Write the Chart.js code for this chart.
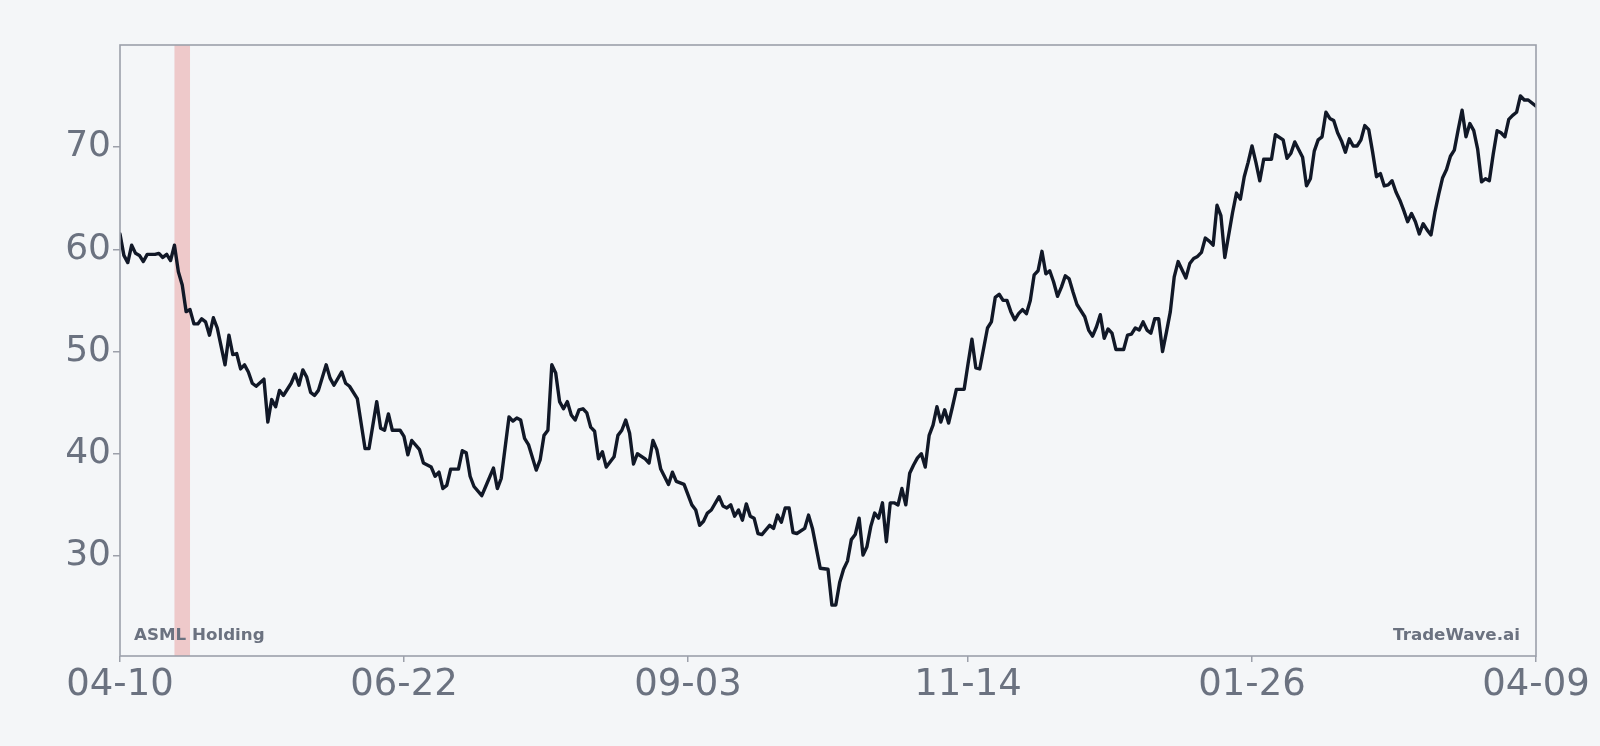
<!DOCTYPE html>
<html>
<head>
<meta charset="utf-8">
<title>ASML Holding</title>
<script src="https://cdn.jsdelivr.net/npm/chart.js@4.4.1/dist/chart.umd.min.js"></script>
<style>
    html, body { margin: 0; padding: 0; background: #f4f6f8; }
    #wrap { width: 1600px; height: 746px; position: relative; }
</style>
</head>
<body>
<div id="wrap"><canvas id="priceChart"></canvas></div>
<script>
const tickerName = 'ASML Holding';
const sourceLabel = 'TradeWave.ai';
const tickDays = [0, 73, 146, 218, 291, 364];
const tickLabels = ['04-10', '06-22', '09-03', '11-14', '01-26', '04-09'];
const yTicks = [30, 40, 50, 60, 70];
const highlightDays = [14, 18];

// day index (from 04-10) and closing price
const days = [
    0, 1, 2, 3, 4, 5, 6, 7, 9, 10,
    11, 12, 13, 14, 15, 16, 17, 18, 19, 20,
    21, 22, 23, 24, 25, 27, 28, 29, 30, 31,
    32, 33, 34, 35, 37, 38, 39, 40, 41, 42,
    44, 45, 46, 47, 48, 49, 50, 51, 53, 54,
    55, 57, 58, 59, 61, 63, 64, 66, 67, 68,
    69, 70, 72, 73, 74, 75, 77, 78, 80, 81,
    82, 83, 84, 85, 87, 88, 89, 90, 91, 93,
    94, 96, 97, 98, 100, 101, 102, 103, 104, 105,
    107, 108, 109, 110, 111, 112, 113, 114, 115, 116,
    117, 118, 119, 120, 121, 122, 123, 124, 125, 127,
    128, 129, 130, 131, 132, 133, 135, 136, 137, 138,
    139, 141, 142, 143, 145, 147, 148, 149, 150, 151,
    152, 154, 155, 156, 157, 158, 159, 160, 161, 162,
    163, 164, 165, 167, 168, 169, 170, 171, 172, 173,
    174, 176, 177, 178, 180, 182, 183, 184, 185, 186,
    187, 188, 189, 190, 191, 192, 193, 194, 195, 196,
    197, 198, 199, 200, 201, 202, 203, 204, 205, 206,
    207, 208, 209, 210, 211, 212, 213, 214, 215, 217,
    218, 219, 220, 221, 222, 223, 224, 225, 226, 227,
    228, 229, 230, 231, 232, 233, 234, 235, 236, 237,
    238, 239, 240, 241, 242, 243, 244, 245, 246, 248,
    249, 250, 251, 252, 253, 254, 255, 256, 258, 259,
    260, 261, 262, 263, 264, 265, 266, 267, 268, 269,
    270, 271, 272, 273, 274, 275, 276, 277, 278, 279,
    280, 281, 282, 283, 284, 285, 286, 287, 288, 289,
    290, 291, 292, 293, 294, 296, 297, 299, 300, 301,
    302, 304, 305, 306, 307, 308, 309, 310, 311, 312,
    313, 314, 315, 316, 317, 318, 319, 320, 321, 322,
    323, 324, 325, 326, 327, 328, 329, 330, 331, 332,
    333, 334, 335, 336, 337, 338, 339, 340, 341, 342,
    343, 344, 345, 346, 347, 348, 349, 350, 351, 352,
    353, 354, 355, 356, 357, 358, 359, 360, 361, 362,
    364
];
const closes = [
    61.5, 59.4, 58.7, 60.4, 59.6, 59.4, 58.8, 59.5, 59.5, 59.6,
    59.2, 59.5, 58.9, 60.4, 57.8, 56.5, 53.9, 54.1, 52.7, 52.7,
    53.2, 52.9, 51.6, 53.3, 52.3, 48.7, 51.6, 49.7, 49.8, 48.3,
    48.7, 48.0, 46.9, 46.6, 47.3, 43.1, 45.3, 44.6, 46.2, 45.7,
    46.9, 47.8, 46.7, 48.2, 47.5, 46.0, 45.7, 46.2, 48.7, 47.4,
    46.7, 48.0, 46.9, 46.6, 45.4, 40.5, 40.5, 45.1, 42.5, 42.3,
    43.9, 42.3, 42.3, 41.7, 39.9, 41.3, 40.4, 39.1, 38.7, 37.8,
    38.2, 36.6, 36.9, 38.5, 38.5, 40.3, 40.1, 37.8, 36.8, 35.9,
    36.8, 38.6, 36.6, 37.6, 43.6, 43.2, 43.5, 43.3, 41.5, 40.9,
    38.4, 39.4, 41.8, 42.3, 48.7, 47.9, 45.1, 44.4, 45.1, 43.8,
    43.3, 44.3, 44.4, 44.0, 42.6, 42.2, 39.5, 40.2, 38.7, 39.7,
    41.8, 42.3, 43.3, 42.0, 39.0, 40.0, 39.5, 39.1, 41.3, 40.4,
    38.5, 37.0, 38.2, 37.3, 37.0, 35.0, 34.5, 33.0, 33.4, 34.2,
    34.5, 35.8, 34.9, 34.7, 35.0, 33.9, 34.5, 33.5, 35.1, 33.9,
    33.7, 32.2, 32.1, 33.0, 32.7, 34.0, 33.3, 34.7, 34.7, 32.3,
    32.2, 32.7, 34.0, 32.7, 28.8, 28.7, 25.2, 25.2, 27.4, 28.7,
    29.5, 31.6, 32.1, 33.7, 30.1, 30.9, 32.9, 34.2, 33.7, 35.2,
    31.4, 35.2, 35.2, 35.0, 36.6, 35.0, 38.1, 38.9, 39.6, 40.0,
    38.7, 41.8, 42.8, 44.6, 43.1, 44.3, 43.0, 44.6, 46.3, 46.3,
    48.8, 51.2, 48.4, 48.3, 50.3, 52.3, 52.9, 55.3, 55.6, 55.0,
    55.0, 53.9, 53.1, 53.7, 54.1, 53.7, 55.0, 57.5, 57.9, 59.8,
    57.6, 57.9, 56.8, 55.4, 56.3, 57.4, 57.1, 55.8, 54.6, 53.4,
    52.1, 51.5, 52.4, 53.6, 51.3, 52.2, 51.8, 50.2, 50.2, 51.6,
    51.7, 52.3, 52.1, 52.9, 52.1, 51.8, 53.2, 53.2, 50.0, 51.9,
    53.9, 57.3, 58.8, 58.0, 57.2, 58.6, 59.1, 59.3, 59.7, 61.1,
    60.8, 60.4, 64.3, 63.3, 59.2, 61.4, 63.6, 65.5, 64.9, 67.1,
    68.5, 70.1, 68.5, 66.7, 68.8, 68.8, 71.2, 70.7, 68.9, 69.4,
    70.5, 69.0, 66.2, 66.9, 69.6, 70.7, 71.0, 73.4, 72.8, 72.6,
    71.4, 70.6, 69.5, 70.8, 70.1, 70.1, 70.7, 72.1, 71.7, 69.5,
    67.1, 67.4, 66.2, 66.3, 66.7, 65.6, 64.8, 63.8, 62.7, 63.5,
    62.7, 61.5, 62.5, 61.9, 61.4, 63.6, 65.4, 67.0, 67.8, 69.1,
    69.7, 71.7, 73.6, 71.0, 72.3, 71.6, 69.8, 66.6, 66.9, 66.7,
    69.3, 71.6, 71.4, 71.0, 72.7, 73.1, 73.4, 75.0, 74.6, 74.6,
    74.0
];

const FRAME = '#9ca0aa';
const TEXT = '#6b7280';

const highlightPlugin = {
    id: 'highlightPlugin',
    beforeDatasetsDraw(chart) {
        const { ctx, chartArea, scales } = chart;
        const x1 = scales.x.getPixelForValue(highlightDays[0]);
        const x2 = scales.x.getPixelForValue(highlightDays[1]);
        ctx.save();
        ctx.fillStyle = 'rgba(220, 60, 60, 0.24)';
        ctx.fillRect(x1, chartArea.top, x2 - x1, chartArea.bottom - chartArea.top);
        ctx.restore();
    }
};

const framePlugin = {
    id: 'framePlugin',
    afterDraw(chart) {
        const { ctx, chartArea } = chart;
        ctx.save();
        ctx.strokeStyle = FRAME;
        ctx.lineWidth = 1.6;
        ctx.strokeRect(chartArea.left, chartArea.top, chartArea.right - chartArea.left, chartArea.bottom - chartArea.top);

        // 좌하단 / 우하단 텍스트
        ctx.font = 'bold 16.7px "DejaVu Sans", sans-serif';
        ctx.fillStyle = TEXT;
        ctx.textBaseline = 'alphabetic';
        ctx.textAlign = 'left';
        ctx.fillText(tickerName, chartArea.left + 14, chartArea.bottom - 16);
        ctx.textAlign = 'right';
        ctx.fillText(sourceLabel, chartArea.right - 16, chartArea.bottom - 16);
        ctx.restore();
    }
};

const lo = Math.min(...closes);
const hi = Math.max(...closes);
const pad = (hi - lo) * 0.1;

Chart.defaults.font.family = '"DejaVu Sans", sans-serif';

new Chart(document.getElementById('priceChart'), {
    type: 'line',
    data: {
        datasets: [{
            data: days.map((d, i) => ({ x: d, y: closes[i] })),
            borderColor: '#111827',
            borderWidth: 3.4,
            pointRadius: 0,
            tension: 0,
            borderJoinStyle: 'round',
            borderCapStyle: 'round'
        }]
    },
    options: {
        responsive: true,
        maintainAspectRatio: false,
        animation: false,
        devicePixelRatio: 1,
        layout: { padding: { top: 45, right: 64, bottom: 0, left: 0 } },
        plugins: {
            legend: { display: false },
            tooltip: { enabled: false }
        },
        scales: {
            x: {
                type: 'linear',
                min: 0,
                max: 364,
                afterBuildTicks: scale => { scale.ticks = tickDays.map(v => ({ value: v })); },
                afterFit: scale => { scale.height = 90; },
                border: { display: false },
                grid: {
                    display: true,
                    drawOnChartArea: false,
                    drawTicks: true,
                    tickLength: 6,
                    color: FRAME,
                    lineWidth: 1.5
                },
                ticks: {
                    autoSkip: false,
                    maxRotation: 0,
                    padding: 1,
                    color: TEXT,
                    font: { size: 37 },
                    callback: value => tickLabels[tickDays.indexOf(value)] ?? ''
                }
            },
            y: {
                type: 'linear',
                min: lo - pad,
                max: hi + pad,
                afterBuildTicks: scale => { scale.ticks = yTicks.map(v => ({ value: v })); },
                afterFit: scale => { scale.width = 120; },
                border: { display: false },
                grid: {
                    display: true,
                    drawOnChartArea: false,
                    drawTicks: true,
                    tickLength: 7,
                    color: FRAME,
                    lineWidth: 1.5
                },
                ticks: {
                    padding: 2,
                    color: TEXT,
                    font: { size: 36 }
                }
            }
        }
    },
    plugins: [highlightPlugin, framePlugin]
});
</script>
</body>
</html>
